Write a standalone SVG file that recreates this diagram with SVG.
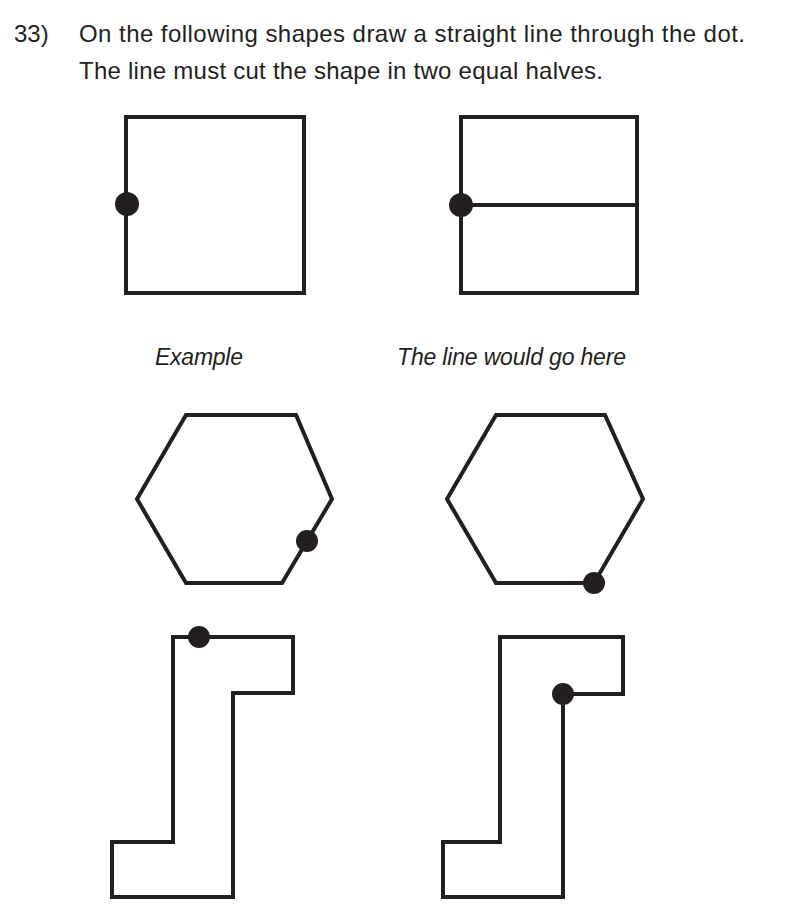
<svg xmlns="http://www.w3.org/2000/svg" width="800" height="920" viewBox="0 0 800 920">
<style>
.s{fill:none;stroke:#231f20;stroke-width:4;stroke-linejoin:miter}
.d{fill:#231f20}
.t{font-family:"Liberation Sans","DejaVu Sans",sans-serif;font-size:24px;fill:#231f20}
.i{font-family:"Liberation Sans","DejaVu Sans",sans-serif;font-size:23px;font-style:italic;fill:#231f20}
</style>
<rect width="800" height="920" fill="#fff"/>
<text class="t" x="14" y="42">33)</text>
<text class="t" x="79" y="42" textLength="666" lengthAdjust="spacing">On the following shapes draw a straight line through the dot.</text>
<text class="t" x="79" y="79" textLength="524" lengthAdjust="spacing">The line must cut the shape in two equal halves.</text>
<g id="square1"><rect class="s" x="126" y="117" width="178" height="176"/><circle class="d" cx="127" cy="204" r="12"/></g>
<g id="square2"><rect class="s" x="461" y="117" width="176" height="176"/><line class="s" x1="461" y1="205" x2="637" y2="205"/><circle class="d" cx="461" cy="205" r="12"/></g>
<text class="i" x="155" y="365" textLength="88" lengthAdjust="spacing">Example</text>
<text class="i" x="397" y="365" textLength="229" lengthAdjust="spacing">The line would go here</text>
<g id="hex1"><polygon class="s" points="137,499 186,415 296,415 332,499 282,583 186,583"/><circle class="d" cx="307" cy="541" r="11"/></g>
<g id="hex2"><polygon class="s" points="447,499 496,415 605,415 643,499 594,583 496,583"/><circle class="d" cx="594" cy="583" r="11"/></g>
<g id="step1"><polygon class="s" points="173,637 293,637 293,693 233,693 233,897 112,897 112,842 173,842"/><circle class="d" cx="199" cy="637" r="11"/></g>
<g id="step2"><polygon class="s" points="500,637 623,637 623,694 563,694 563,897 443,897 443,842 500,842"/><circle class="d" cx="563" cy="694" r="11"/></g>
</svg>
